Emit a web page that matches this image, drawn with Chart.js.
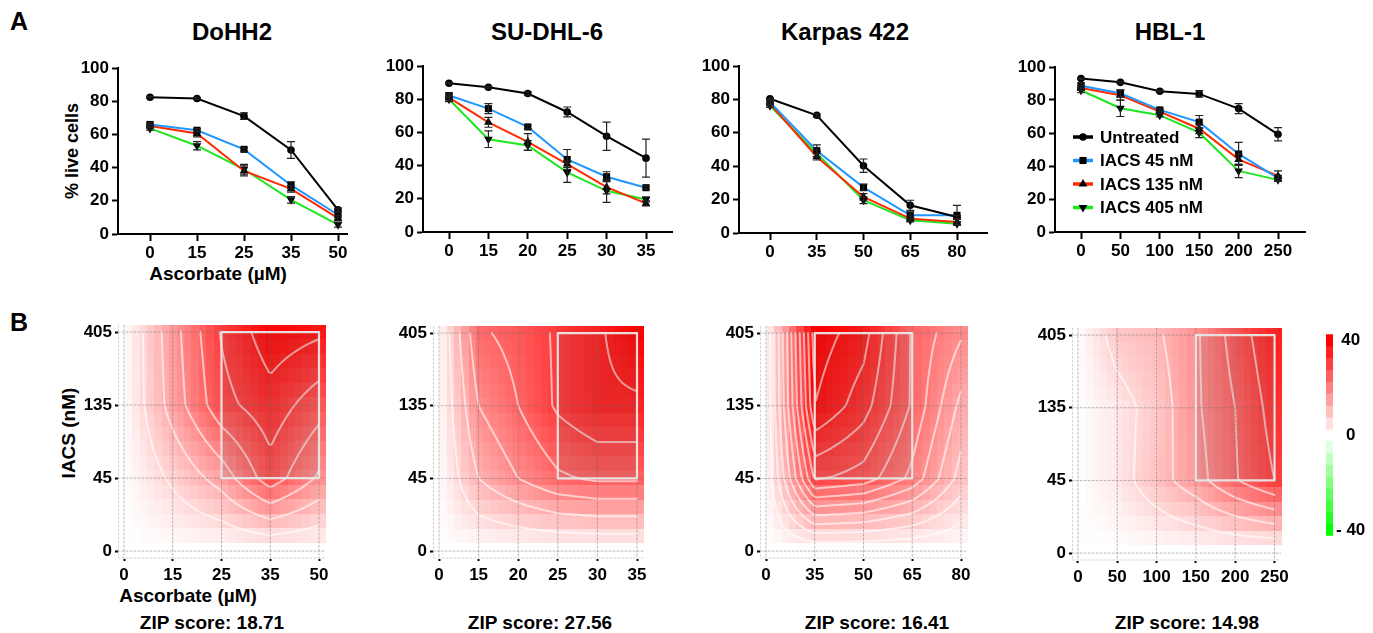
<!DOCTYPE html>
<html>
<head>
<meta charset="utf-8">
<script src="https://cdn.jsdelivr.net/npm/chart.js@4.4.1/dist/chart.umd.min.js"></script>
<style>
  body { margin: 0; background: #fff; width: 1373px; height: 633px; position: relative; overflow: hidden;
         font-family: "Liberation Sans", Arial, sans-serif; font-weight: bold; color: #000; }
  canvas { position: absolute; }
  .t { position: absolute; white-space: nowrap; transform: translate(-50%, -50%); line-height: 1; }
  .r { transform: translate(-50%, -50%) rotate(-90deg); }
</style>
</head>
<body>
<div class="t" style="left:19px;top:21px;font-size:25px">A</div>
<div class="t" style="left:19px;top:322px;font-size:25px">B</div>
<div class="t" style="left:232px;top:32px;font-size:24px">DoHH2</div>
<div class="t" style="left:547px;top:32px;font-size:24px">SU-DHL-6</div>
<div class="t" style="left:845px;top:32px;font-size:24px">Karpas 422</div>
<div class="t" style="left:1170px;top:32px;font-size:24px">HBL-1</div>
<div class="t r" style="left:72px;top:151px;font-size:18px">% live cells</div>
<div class="t" style="left:218px;top:273px;font-size:19px">Ascorbate (µM)</div>
<div class="t r" style="left:68px;top:433px;font-size:19px">IACS (nM)</div>
<div class="t" style="left:188px;top:595px;font-size:19px">Ascorbate (µM)</div>
<div class="t" style="left:212px;top:622px;font-size:19px" id="zip0"></div>
<div class="t" style="left:540px;top:622px;font-size:19px" id="zip1"></div>
<div class="t" style="left:877px;top:622px;font-size:19px" id="zip2"></div>
<div class="t" style="left:1187px;top:622px;font-size:19px" id="zip3"></div>

<script>
const FONT = '"Liberation Sans", Arial, sans-serif';

// ---------- A: % live cells ----------
const seriesLabels = ['Untreated', 'IACS 45 nM', 'IACS 135 nM', 'IACS 405 nM'];
const seriesColors = ['#000000', '#2196ff', '#ff2a00', '#1ee61e'];
const seriesMarkers = ['circle', 'rect', 'triangle', 'triangle'];

const dohh2Doses = ['0', '15', '25', '35', '50'];
const dohh2Untreated = [82.4, 81.6, 71, 50.6, 14.6];
const dohh2Iacs45 = [66, 62.5, 51, 29.4, 11.6];
const dohh2Iacs135 = [65, 60.5, 38, 27.2, 9.6];
const dohh2Iacs405 = [63.6, 53.2, 39, 20.6, 5.6];
const dohh2ErrUntreated = [0.5, 0.5, 2, 5, 1];
const dohh2Err45 = [1, 1, 1, 2, 1.5];
const dohh2Err135 = [1, 2, 3, 2, 1.5];
const dohh2Err405 = [1, 2.5, 3, 2, 1.5];

const suDoses = ['0', '15', '20', '25', '30', '35'];
const suUntreated = [89.6, 87.2, 83.4, 72.3, 57.7, 44.5];
const suIacs45 = [82.2, 74.3, 63.3, 43.7, 33.3, 26.7];
const suIacs135 = [81, 66.1, 54.3, 40.9, 27, 17.2];
const suIacs405 = [80, 55.9, 52.1, 35.9, 24.8, 19.6];
const suErrUntreated = [0.5, 0.5, 1, 3, 8.5, 11.5];
const suErr45 = [1.5, 3, 1, 6, 3, 1];
const suErr135 = [1.5, 3, 5, 2, 4, 1.5];
const suErr405 = [1.5, 5, 3, 6, 7, 1.5];

const karpasDoses = ['0', '35', '50', '65', '80'];
const karpasUntreated = [80.4, 70.5, 40.3, 16.6, 9.6];
const karpasIacs45 = [78.4, 49.3, 27.3, 10.6, 10.6];
const karpasIacs135 = [77.4, 45.7, 21.6, 8.6, 6.6];
const karpasIacs405 = [76.2, 47.7, 19.6, 7.6, 5.6];
const karpasErrUntreated = [0.5, 1, 4, 3, 1];
const karpasErr45 = [1, 3.5, 2, 2, 6];
const karpasErr135 = [1, 2, 2, 1.5, 1.5];
const karpasErr405 = [1, 2, 2, 1, 1];

const hblDoses = ['0', '50', '100', '150', '200', '250'];
const hblUntreated = [93, 90.7, 85.3, 83.7, 74.8, 59.2];
const hblIacs45 = [88.7, 84.1, 74, 66.6, 47.3, 32.6];
const hblIacs135 = [87.3, 82.9, 73, 62.6, 44, 34];
const hblIacs405 = [85.9, 75, 70.8, 60.2, 37, 31.6];
const hblErrUntreated = [0.5, 0.5, 0.5, 2, 3, 4];
const hblErr45 = [1.5, 2, 1, 4, 7, 1.5];
const hblErr135 = [1.5, 3, 1, 3, 3, 3];
const hblErr405 = [1.5, 5, 1, 3, 4, 1];

// ---------- B: ZIP synergy maps (rows: IACS 0, 45, 135, 405 nM) ----------
const iacsDoses = ['0', '45', '135', '405'];
const zipDohh2 = [
  [0, 0, 0, 0, 0],
  [0, 7, 14.5, 27.5, 17],
  [0, 14.5, 28, 33.5, 26.5],
  [0, 15.5, 30.5, 39.5, 37],
];
const zipSu = [
  [0, 0, 0, 0, 0, 0],
  [0, 12, 18, 23, 25, 25],
  [0, 18, 24, 31, 35, 35],
  [0, 23, 26, 31, 35, 40],
];
const zipKarpas = [
  [0, 0, 0, 0, 0],
  [0, 28.5, 26.5, 20, 9],
  [0, 38.5, 33, 24, 13],
  [0, 40.5, 36.5, 24, 18],
];
const zipHbl = [
  [0, 0, 0, 0, 0, 0],
  [0, 3.5, 9.5, 15.5, 23.5, 30],
  [0, 3.5, 8.5, 17, 24, 32.5],
  [0, 8.5, 11, 17, 26.5, 35],
];
const zipScores = ['18.71', '27.56', '16.41', '14.98'];
const colorbarSteps = [40, 35, 30, 25, 20, 15, 10, 5, 0, -5, -10, -15, -20, -25, -30, -35, -40];

// ---------- helpers ----------
const tickFont = { family: FONT, size: 17, weight: 'bold' };

const zipColor = v => {
  const t = Math.min(Math.abs(v) / 40, 1);
  const c = Math.round(255 * (1 - t));
  return v >= 0 ? `rgb(255,${c},${c})` : `rgb(${c},255,${c})`;
};

const sample = (m, fx, fy) => {
  const nx = m[0].length - 1, ny = m.length - 1;
  fx = Math.max(0, Math.min(nx, fx));
  fy = Math.max(0, Math.min(ny, fy));
  const i = Math.min(Math.floor(fx), nx - 1), j = Math.min(Math.floor(fy), ny - 1);
  const tx = fx - i, ty = fy - j;
  return m[j][i] * (1 - tx) * (1 - ty) + m[j][i + 1] * tx * (1 - ty) +
         m[j + 1][i] * (1 - tx) * ty + m[j + 1][i + 1] * tx * ty;
};

const drawMarker = (ctx, style, x, y, r, flip) => {
  ctx.beginPath();
  if (style === 'circle') ctx.arc(x, y, r, 0, Math.PI * 2);
  else if (style === 'rect') ctx.rect(x - r * 0.71, y - r * 0.71, r * 1.42, r * 1.42);
  else {
    const s = flip ? -1 : 1;
    ctx.moveTo(x, y - s * r);
    ctx.lineTo(x + r * 0.87, y + s * r * 0.5);
    ctx.lineTo(x - r * 0.87, y + s * r * 0.5);
    ctx.closePath();
  }
  ctx.fill();
};

const makeCanvas = (left, top, w, h) => {
  const c = document.createElement('canvas');
  c.width = w; c.height = h;
  c.style.left = left + 'px'; c.style.top = top + 'px';
  document.body.appendChild(c);
  return c;
};

// error bars on the line charts
const errorBars = {
  id: 'errorBars',
  afterDatasetsDraw(chart) {
    const { ctx, scales: { x, y } } = chart;
    ctx.save();
    ctx.strokeStyle = '#222';
    ctx.lineWidth = 1.2;
    chart.data.datasets.forEach(ds => {
      (ds.errors || []).forEach((e, i) => {
        if (!e) return;
        const px = x.getPixelForValue(i);
        const lo = y.getPixelForValue(ds.data[i].y - e), hi = y.getPixelForValue(ds.data[i].y + e);
        ctx.beginPath();
        ctx.moveTo(px, lo); ctx.lineTo(px, hi);
        ctx.moveTo(px - 4, lo); ctx.lineTo(px + 4, lo);
        ctx.moveTo(px - 4, hi); ctx.lineTo(px + 4, hi);
        ctx.stroke();
      });
    });
    ctx.restore();
  }
};

// legend drawn inside the HBL-1 plot
const insideLegend = {
  id: 'insideLegend',
  afterDraw(chart, args, o) {
    if (!o.show) return;
    const { ctx, chartArea: a } = chart;
    ctx.save();
    seriesLabels.forEach((label, k) => {
      const x = a.left + o.left, y = a.top + o.top + k * o.gap;
      ctx.strokeStyle = seriesColors[k];
      ctx.lineWidth = 3.5;
      ctx.beginPath(); ctx.moveTo(x, y); ctx.lineTo(x + 20, y); ctx.stroke();
      ctx.fillStyle = '#000';
      drawMarker(ctx, seriesMarkers[k], x + 10, y, k === 0 ? 3.8 : 5, k === 3);
      ctx.font = `bold 17px ${FONT}`;
      ctx.textBaseline = 'middle';
      ctx.fillText(label, x + 27, y + 1);
    });
    ctx.restore();
  }
};

// ---------- line charts ----------
const lineGeom = [
  { L: 118, R: 347, T: 68, B: 234, first: 150, step: 47 },
  { L: 423, R: 672, T: 66, B: 232, first: 449, step: 39.4 },
  { L: 739, R: 987, T: 66, B: 233, first: 770, step: 46.75 },
  { L: 1055, R: 1305, T: 67, B: 232, first: 1081, step: 39.4 },
];
const lineCharts = [
  { doses: dohh2Doses, values: [dohh2Untreated, dohh2Iacs45, dohh2Iacs135, dohh2Iacs405],
    errors: [dohh2ErrUntreated, dohh2Err45, dohh2Err135, dohh2Err405] },
  { doses: suDoses, values: [suUntreated, suIacs45, suIacs135, suIacs405],
    errors: [suErrUntreated, suErr45, suErr135, suErr405] },
  { doses: karpasDoses, values: [karpasUntreated, karpasIacs45, karpasIacs135, karpasIacs405],
    errors: [karpasErrUntreated, karpasErr45, karpasErr135, karpasErr405] },
  { doses: hblDoses, values: [hblUntreated, hblIacs45, hblIacs135, hblIacs405],
    errors: [hblErrUntreated, hblErr45, hblErr135, hblErr405], legend: true },
];
const markerRadius = [3.8, 5, 5, 5];
const markerRotation = [0, 0, 0, 180];

lineCharts.forEach((c, n) => {
  const g = lineGeom[n];
  const padL = 60, padT = 20, padR = 20, padB = 40;
  const canvas = makeCanvas(g.L - padL, g.T - padT, g.R - g.L + padL + padR, g.B - g.T + padT + padB);
  new Chart(canvas, {
    type: 'line',
    data: {
      datasets: c.values.map((vals, k) => ({
        label: seriesLabels[k],
        data: vals.map((v, i) => ({ x: i, y: v })),
        errors: c.errors[k],
        borderColor: seriesColors[k],
        borderWidth: 2,
        pointStyle: seriesMarkers[k],
        pointRadius: markerRadius[k],
        pointRotation: markerRotation[k],
        pointBackgroundColor: '#000',
        pointBorderColor: '#000',
        pointBorderWidth: 0,
        tension: 0,
        clip: false,
      })),
    },
    options: {
      responsive: false,
      animation: false,
      layout: { padding: { top: padT, right: padR, left: 0, bottom: 0 } },
      plugins: {
        legend: { display: false },
        tooltip: { enabled: false },
        insideLegend: { show: !!c.legend, left: 18, top: 70, gap: 23.5 },
      },
      scales: {
        x: {
          type: 'linear',
          min: -(g.first - g.L) / g.step,
          max: (g.R - g.first) / g.step,
          afterFit: s => { s.height = padB; },
          afterBuildTicks: s => { s.ticks = c.doses.map((d, i) => ({ value: i })); },
          ticks: { callback: v => c.doses[v], font: tickFont, color: '#000', padding: 2, maxRotation: 0, autoSkip: false },
          grid: { drawOnChartArea: false, tickLength: 7, tickWidth: 2, tickColor: '#000' },
          border: { color: '#000', width: 2 },
        },
        y: {
          min: 0, max: 100,
          afterFit: s => { s.width = padL; },
          ticks: { stepSize: 20, font: tickFont, color: '#000', padding: 3 },
          grid: { drawOnChartArea: false, tickLength: 6, tickWidth: 2, tickColor: '#000' },
          border: { color: '#000', width: 2 },
        },
      },
    },
    plugins: [errorBars, insideLegend],
  });
});

// ---------- synergy maps ----------
const heatMap = {
  id: 'heatMap',
  beforeDatasetsDraw(chart, args, o) {
    const { ctx, chartArea: a, scales: { x, y } } = chart;
    const cols = Math.round((a.right - a.left) / 7.3), rows = 16;
    const cw = (a.right - a.left) / cols, rh = (a.bottom - a.top) / rows;
    for (let i = 0; i < cols; i++) {
      for (let j = 0; j < rows; j++) {
        const px = a.left + (i + 0.5) * cw, py = a.top + (j + 0.5) * rh;
        ctx.fillStyle = zipColor(sample(o.matrix, x.getValueForPixel(px), y.getValueForPixel(py)));
        ctx.fillRect(Math.floor(a.left + i * cw), Math.floor(a.top + j * rh), Math.ceil(cw) + 1, Math.ceil(rh) + 1);
      }
    }
  },
  afterDatasetsDraw(chart, args, o) {
    const { ctx, chartArea: a, scales: { x, y } } = chart;
    const m = o.matrix, nx = m[0].length - 1, ny = m.length - 1;
    const N = 70, M = 70;
    ctx.save();
    // contour lines (marching squares on the surface)
    ctx.strokeStyle = 'rgba(255,255,255,0.6)';
    ctx.lineWidth = 2;
    ctx.lineCap = 'round';
    ctx.lineJoin = 'round';
    o.levels.forEach(level => {
      ctx.beginPath();
      for (let i = 0; i < N; i++) {
        for (let j = 0; j < M; j++) {
          const xa = nx * i / N, xb = nx * (i + 1) / N, ya = ny * j / M, yb = ny * (j + 1) / M;
          const P = [[xa, ya], [xb, ya], [xb, yb], [xa, yb]];
          const v = P.map(p => sample(m, p[0], p[1]));
          const pts = [];
          for (let e = 0; e < 4; e++) {
            const p = v[e], q = v[(e + 1) % 4];
            if ((p < level) !== (q < level)) {
              const t = (level - p) / (q - p), A = P[e], B = P[(e + 1) % 4];
              pts.push([x.getPixelForValue(A[0] + (B[0] - A[0]) * t), y.getPixelForValue(A[1] + (B[1] - A[1]) * t)]);
            }
          }
          for (let s = 0; s + 1 < pts.length; s += 2) {
            ctx.moveTo(pts[s][0], pts[s][1]);
            ctx.lineTo(pts[s + 1][0], pts[s + 1][1]);
          }
        }
      }
      ctx.stroke();
    });
    // dotted grid
    ctx.setLineDash([2, 2]);
    ctx.lineWidth = 0.8;
    ctx.strokeStyle = 'rgba(110,110,110,0.6)';
    ctx.beginPath();
    for (let i = 0; i <= nx; i++) { const px = x.getPixelForValue(i); ctx.moveTo(px, a.top); ctx.lineTo(px, a.bottom); }
    for (let j = 0; j <= ny; j++) { const py = y.getPixelForValue(j); ctx.moveTo(a.left, py); ctx.lineTo(a.right, py); }
    ctx.stroke();
    ctx.strokeStyle = 'rgba(150,150,150,0.5)';
    ctx.beginPath();
    ctx.moveTo(a.left + 0.5, a.top); ctx.lineTo(a.left + 0.5, a.bottom); ctx.lineTo(a.right, a.bottom);
    ctx.stroke();
    ctx.setLineDash([]);
    // most synergistic area
    const bx0 = x.getPixelForValue(o.box[0]), bx1 = x.getPixelForValue(o.box[1]);
    const by0 = y.getPixelForValue(o.box[3]), by1 = y.getPixelForValue(o.box[2]);
    ctx.fillStyle = 'rgba(90,90,90,0.13)';
    ctx.fillRect(bx0, by0, bx1 - bx0, by1 - by0);
    ctx.strokeStyle = 'rgba(232,232,232,0.95)';
    ctx.lineWidth = 2.2;
    ctx.strokeRect(bx0, by0, bx1 - bx0, by1 - by0);
    ctx.restore();
  }
};

const heatGeom = [
  { L: 118, R: 325, T: 322, B: 558 },
  { L: 433, R: 643, T: 323, B: 558 },
  { L: 760, R: 967, T: 323, B: 558 },
  { L: 1072, R: 1283, T: 325, B: 560 },
];
const heatPad = { x: 6, y: 7 };
const heatMaps = [
  { doses: dohh2Doses, matrix: zipDohh2, levels: [6, 12, 18, 24, 30, 36], box: [2, 4, 1, 3] },
  { doses: suDoses, matrix: zipSu, levels: [6, 12, 18, 24, 30, 36], box: [3, 5, 1, 3] },
  { doses: karpasDoses, matrix: zipKarpas, levels: [3.5, 7, 10.5, 14, 17.5, 21, 24.5, 28, 31.5, 35, 38.5], box: [1, 3, 1, 3] },
  { doses: hblDoses, matrix: zipHbl, levels: [6, 12, 18, 24, 30], box: [3, 5, 1, 3] },
];

heatMaps.forEach((h, n) => {
  const g = heatGeom[n];
  const padL = 50, padT = 10, padR = 10, padB = 32;
  const nx = h.doses.length - 1, ny = iacsDoses.length - 1;
  const perX = (g.R - g.L - 2 * heatPad.x) / nx, perY = (g.B - g.T - 2 * heatPad.y) / ny;
  const canvas = makeCanvas(g.L - padL, g.T - padT, g.R - g.L + padL + padR, g.B - g.T + padT + padB);
  new Chart(canvas, {
    type: 'scatter',
    data: { datasets: [] },
    options: {
      responsive: false,
      animation: false,
      layout: { padding: { top: padT, right: padR, left: 0, bottom: 0 } },
      plugins: {
        legend: { display: false },
        tooltip: { enabled: false },
        heatMap: { matrix: h.matrix, levels: h.levels, box: h.box },
      },
      scales: {
        x: {
          type: 'linear',
          min: -heatPad.x / perX, max: nx + heatPad.x / perX,
          afterFit: s => { s.height = padB; },
          afterBuildTicks: s => { s.ticks = h.doses.map((d, i) => ({ value: i })); },
          ticks: { callback: v => h.doses[v], font: tickFont, color: '#000', padding: 4, maxRotation: 0, autoSkip: false },
          grid: { drawOnChartArea: false, tickLength: 3, tickWidth: 2, tickColor: '#000' },
          border: { display: false },
        },
        y: {
          type: 'linear',
          min: -heatPad.y / perY, max: ny + heatPad.y / perY,
          afterFit: s => { s.width = padL; },
          afterBuildTicks: s => { s.ticks = iacsDoses.map((d, i) => ({ value: i })); },
          ticks: { callback: v => iacsDoses[v], font: tickFont, color: '#000', padding: 3, autoSkip: false },
          grid: { drawOnChartArea: false, tickLength: 3, tickWidth: 2, tickColor: '#000' },
          border: { display: false },
        },
      },
    },
    plugins: [heatMap],
  });
  document.getElementById('zip' + n).textContent = 'ZIP score: ' + zipScores[n];
});

// ---------- colour bar ----------
const cbar = makeCanvas(1316, 321, 57, 228);
new Chart(cbar, {
  type: 'bar',
  data: {
    labels: [''],
    datasets: colorbarSteps.map(v => ({
      data: [[v - 2.5, v + 2.5]],
      backgroundColor: zipColor(v),
      borderWidth: 0,
      barPercentage: 1,
      categoryPercentage: 1,
      grouped: false,
    })),
  },
  options: {
    responsive: false,
    animation: false,
    layout: { padding: { top: 10, bottom: 10, left: 10, right: 0 } },
    plugins: { legend: { display: false }, tooltip: { enabled: false } },
    scales: {
      x: { display: false },
      y: {
        position: 'right',
        min: -42.5, max: 42.5,
        afterFit: s => { s.width = 40; },
        afterBuildTicks: s => { s.ticks = [{ value: 40 }, { value: 0 }, { value: -40 }]; },
        ticks: { callback: v => (v < 0 ? '- ' + (-v) : String(v)), font: tickFont, color: '#000', padding: 3, crossAlign: 'center' },
        grid: { display: false, drawTicks: false },
        border: { display: false },
      },
    },
  },
});
</script>
</body>
</html>
